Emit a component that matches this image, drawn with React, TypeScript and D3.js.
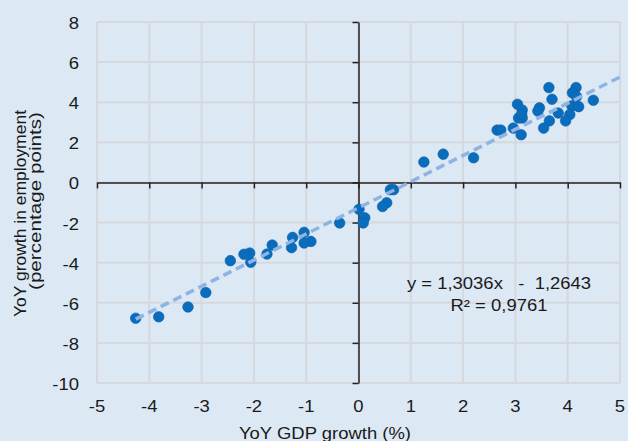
import React, { useEffect, useRef } from "react";
import * as d3 from "d3";

// YoY GDP growth (%) and YoY employment growth (pp), one point per observation
const gdpGrowth = [
  3.64, 4.16, 4.09, 4.17, 3.7, 4.49, 3.04, 3.13, 3.46, 3.43, 4.08, 4.21, 3.82,
  4.04, 3.13, 3.06, 3.65, 3.96, 3.54, 2.96, 2.65, 2.72, 3.11, 3.12,
  1.25, 1.62, 2.2, 0.61, 0.67, 0.54, 0.46, 0.01, 0.12, 0.09, -0.36,
  -0.91, -1.04, -1.04, -1.26, -1.28, -1.65, -1.75, -2.06, -2.08, -2.19, -2.45,
  -2.92, -3.26, -3.82, -4.26,
];
const employmentGrowth = [
  4.73, 4.73, 4.47, 4.28, 4.15, 4.1, 3.9, 3.61, 3.72, 3.56, 3.82, 3.78, 3.46,
  3.39, 3.21, 3.21, 3.07, 3.07, 2.71, 2.71, 2.61, 2.61, 2.38, 3.4,
  1.02, 1.41, 1.23, -0.36, -0.36, -1.01, -1.2, -1.34, -1.76, -2.02, -2.02,
  -2.94, -3.02, -2.49, -2.74, -3.25, -3.12, -3.57, -3.98, -3.52, -3.58, -3.9,
  -5.49, -6.21, -6.7, -6.77,
];
const xTicks = [-5, -4, -3, -2, -1, 0, 1, 2, 3, 4, 5];
const yTicks = [-10, -8, -6, -4, -2, 0, 2, 4, 6, 8];
const slope = 1.3036;
const intercept = -1.2643;
const equationLines = ["y = 1,3036x   -  1,2643", "R\u00b2 = 0,9761"];
const yTitleLines = ["YoY growth in employment", "(percentage points)"];
const xTitle = "YoY GDP growth (%)";

const W = 628;
const H = 441;
const FONT = "'Liberation Sans', Arial, Helvetica, sans-serif";
const STRETCH = 1.12; // horizontal texts in the source are a bit wide

export default function App() {
  const svgRef = useRef<SVGSVGElement>(null);

  useEffect(() => {
    const svg = d3.select(svgRef.current);
    svg.selectAll("*").remove();

    const x = d3.scaleLinear().domain([-5, 5]).range([97, 620]);
    const y = d3.scaleLinear().domain([-10, 8]).range([383, 22]);

    svg.append("rect").attr("width", W).attr("height", H).attr("fill", "#dce9f5");

    // grid
    const grid = svg.append("g").attr("stroke", "#d5d8dc").attr("stroke-width", 2);
    grid
      .selectAll("line.v")
      .data(xTicks)
      .enter()
      .append("line")
      .attr("x1", (d) => x(d))
      .attr("x2", (d) => x(d))
      .attr("y1", y(8))
      .attr("y2", y(-10));
    grid
      .selectAll("line.h")
      .data(yTicks)
      .enter()
      .append("line")
      .attr("x1", x(-5))
      .attr("x2", x(5))
      .attr("y1", (d) => y(d))
      .attr("y2", (d) => y(d));

    // axes through the origin
    const xAxis = svg
      .append("g")
      .attr("transform", "translate(0," + y(0) + ")")
      .call(d3.axisBottom(x).tickValues(xTicks).tickSize(6).tickSizeOuter(0).tickFormat(() => ""));
    const yAxis = svg
      .append("g")
      .attr("transform", "translate(" + x(0) + ",0)")
      .call(d3.axisLeft(y).tickValues(yTicks).tickSize(6).tickSizeOuter(0).tickFormat(() => ""));
    [xAxis, yAxis].forEach((g) => {
      g.selectAll("path, line").attr("stroke", "#222").attr("stroke-width", 1.5);
    });

    const hText = (sel, tx, ty) =>
      sel.attr("transform", (d, i) => "translate(" + tx(d, i) + "," + ty(d, i) + ") scale(" + STRETCH + ",1)");

    // tick labels at the plot edges
    svg
      .append("g")
      .selectAll("text")
      .data(xTicks)
      .enter()
      .append("text")
      .call(hText, (d) => x(d), () => 412)
      .attr("text-anchor", "middle")
      .text((d) => String(d));
    svg
      .append("g")
      .selectAll("text")
      .data(yTicks)
      .enter()
      .append("text")
      .call(hText, () => 79, (d) => y(d) + 7)
      .attr("text-anchor", "end")
      .text((d) => String(d));

    // points
    const pts = d3.zip(gdpGrowth, employmentGrowth);
    svg
      .append("g")
      .selectAll("circle")
      .data(pts)
      .enter()
      .append("circle")
      .attr("cx", (d) => x(d[0]))
      .attr("cy", (d) => y(d[1]))
      .attr("r", 5.3)
      .attr("fill", "#0a6cbc")
      .attr("stroke", "#0a5fa8")
      .attr("stroke-width", 0.6);

    // linear trend
    const x0 = d3.min(gdpGrowth) as number;
    const line = d3
      .line<number>()
      .x((d) => x(d))
      .y((d) => y(slope * d + intercept));
    svg
      .append("path")
      .attr("d", line([x0, 5]))
      .attr("fill", "none")
      .attr("stroke", "#8db4e3")
      .attr("stroke-width", 3.5)
      .attr("stroke-dasharray", "9 5");

    // equation
    svg
      .append("g")
      .selectAll("text")
      .data(equationLines)
      .enter()
      .append("text")
      .call(hText, () => 499, (d, i) => 289 + i * 22)
      .attr("text-anchor", "middle")
      .style("white-space", "pre")
      .text((d) => d);

    // titles
    svg
      .append("text")
      .datum(xTitle)
      .call(hText, () => 325, () => 439)
      .attr("text-anchor", "middle")
      .text((d) => d);

    svg.selectAll("text").attr("font-size", 16.5);

    const yTitleSpan = [
      [110, 317],
      [112, 290],
    ];
    svg
      .append("g")
      .selectAll("text")
      .data(yTitleLines)
      .enter()
      .append("text")
      .attr(
        "transform",
        (d, i) => "translate(" + (26 + i * 15) + "," + (yTitleSpan[i][0] + yTitleSpan[i][1]) / 2 + ") rotate(-90)"
      )
      .attr("text-anchor", "middle")
      .attr("font-size", 17)
      .attr("textLength", (d, i) => yTitleSpan[i][1] - yTitleSpan[i][0])
      .attr("lengthAdjust", "spacingAndGlyphs")
      .text((d) => d);

    svg.selectAll("text").attr("font-family", FONT).attr("fill", "#1a1a1a");
  }, []);

  return (
    <div style={{ position: "absolute", left: 0, top: 0 }}>
      <svg ref={svgRef} width={W} height={H} style={{ display: "block" }}></svg>
    </div>
  );
}
